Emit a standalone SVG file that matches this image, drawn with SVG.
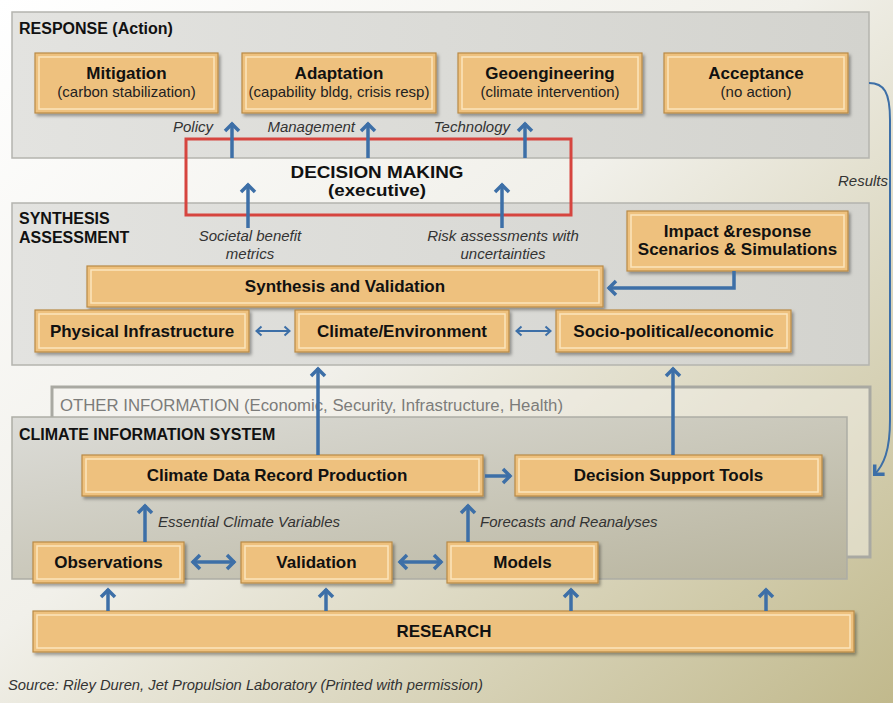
<svg xmlns="http://www.w3.org/2000/svg" width="893" height="703" viewBox="0 0 893 703">
<defs>
<linearGradient id="bg" x1="0" y1="0" x2="1" y2="1">
<stop offset="0" stop-color="#ffffff"/>
<stop offset="0.45" stop-color="#f1f0ea"/>
<stop offset="1" stop-color="#c1b98c"/>
</linearGradient>
<linearGradient id="pan" x1="0" y1="0" x2="1" y2="0">
<stop offset="0" stop-color="#e3e3e0"/>
<stop offset="1" stop-color="#d3d3ce"/>
</linearGradient>
<linearGradient id="pan2" x1="0" y1="0" x2="1" y2="1">
<stop offset="0" stop-color="#dcdcd8"/>
<stop offset="1" stop-color="#b8b49d"/>
</linearGradient>
<filter id="sh" x="-5%" y="-10%" width="110%" height="130%">
<feDropShadow dx="2" dy="2.5" stdDeviation="1.5" flood-color="#000" flood-opacity="0.35"/>
</filter>
<marker id="ah" markerUnits="userSpaceOnUse" markerWidth="20" markerHeight="20" viewBox="-10 -10 20 20" refX="1" refY="0" orient="auto-start-reverse">
<path d="M-7,-7 L0,0 L-7,7" fill="none" stroke="#3d6fa7" stroke-width="3.5"/>
</marker>
<marker id="ahs" markerUnits="userSpaceOnUse" markerWidth="14" markerHeight="14" viewBox="-7 -7 14 14" refX="0.5" refY="0" orient="auto-start-reverse">
<path d="M-5,-4.5 L0,0 L-5,4.5" fill="none" stroke="#3d6fa7" stroke-width="2"/>
</marker>
</defs>
<style>
.panel{fill:url(#pan);stroke:#b4b4ae;stroke-width:1.5}
.box{fill:#eec17e;stroke:#b98a47;stroke-width:1.2;filter:url(#sh)}
.inner{fill:none;stroke:#fbe5bd;stroke-width:1.5}
.t{font-family:"Liberation Sans",Arial,sans-serif;font-weight:bold;font-size:17px;fill:#111;text-anchor:middle}
.s{font-family:"Liberation Sans",Arial,sans-serif;font-size:15px;fill:#222;text-anchor:middle}
.h{font-family:"Liberation Sans",Arial,sans-serif;font-weight:bold;font-size:16px;fill:#111}
.i{font-family:"Liberation Sans",Arial,sans-serif;font-style:italic;font-size:15px;fill:#333}
.c{fill:none;stroke:#3d6fa7;stroke-width:3.5}
.cs{fill:none;stroke:#3d6fa7;stroke-width:2}
</style>
<rect x="0" y="0" width="893" height="703" fill="url(#bg)"/>

<g id="response-panel">
<rect class="panel" x="12" y="12" width="857" height="146"/>
<text class="h" x="19" y="34">RESPONSE (Action)</text>
</g>
<g id="synthesis-panel">
<rect class="panel" x="12" y="203" width="857" height="162"/>
<text class="h" x="19" y="224">SYNTHESIS</text>
<text class="h" x="19" y="243">ASSESSMENT</text>
</g>
<g id="other-information">
<rect x="52" y="387" width="818" height="170" fill="#f6f5ef" fill-opacity="0.45" stroke="#a9a9a2" stroke-width="3"/>
<text x="60" y="411" font-family="Liberation Sans, Arial, sans-serif" font-size="16" fill="#7c7c7a" textLength="503" lengthAdjust="spacingAndGlyphs">OTHER INFORMATION (Economic, Security, Infrastructure, Health)</text>
</g>
<g id="climate-information-panel">
<rect x="12" y="417" width="835" height="162" fill="url(#pan2)" stroke="#adada5" stroke-width="1.5"/>
<text class="h" x="19" y="440">CLIMATE INFORMATION SYSTEM</text>
</g>

<g id="decision-making">
<rect x="186" y="139" width="385" height="76" fill="none" stroke="#d6453f" stroke-width="3"/>
<text class="t" x="377" y="178" font-size="19" textLength="173" lengthAdjust="spacingAndGlyphs">DECISION MAKING</text>
<text class="t" x="377" y="196" font-size="19" textLength="98" lengthAdjust="spacingAndGlyphs">(executive)</text>
</g>

<g id="mitigation">
<rect class="box" x="35" y="53" width="183" height="60"/><rect class="inner" x="39" y="57" width="175" height="52"/>
<text class="t" x="126.5" y="79">Mitigation</text>
<text class="s" x="126.5" y="97">(carbon stabilization)</text>
</g>
<g id="adaptation">
<rect class="box" x="242" y="53" width="194" height="60"/><rect class="inner" x="246" y="57" width="186" height="52"/>
<text class="t" x="339" y="79">Adaptation</text>
<text class="s" x="339" y="97">(capability bldg, crisis resp)</text>
</g>
<g id="geoengineering">
<rect class="box" x="458" y="53" width="184" height="60"/><rect class="inner" x="462" y="57" width="176" height="52"/>
<text class="t" x="550" y="79">Geoengineering</text>
<text class="s" x="550" y="97">(climate intervention)</text>
</g>
<g id="acceptance">
<rect class="box" x="664" y="53" width="184" height="60"/><rect class="inner" x="668" y="57" width="176" height="52"/>
<text class="t" x="756" y="79">Acceptance</text>
<text class="s" x="756" y="97">(no action)</text>
</g>

<g id="impact-response">
<rect class="box" x="627" y="211" width="221" height="60"/><rect class="inner" x="631" y="215" width="213" height="52"/>
<text class="t" x="737.5" y="237">Impact &amp;response</text>
<text class="t" x="737.5" y="255">Scenarios &amp; Simulations</text>
</g>
<g id="synthesis-validation">
<rect class="box" x="87" y="266" width="516" height="41"/><rect class="inner" x="91" y="270" width="508" height="33"/>
<text class="t" x="345" y="292">Synthesis and Validation</text>
</g>
<g id="physical-infrastructure">
<rect class="box" x="35" y="310" width="214" height="42"/><rect class="inner" x="39" y="314" width="206" height="34"/>
<text class="t" x="142" y="337">Physical Infrastructure</text>
</g>
<g id="climate-environment">
<rect class="box" x="295" y="310" width="214" height="42"/><rect class="inner" x="299" y="314" width="206" height="34"/>
<text class="t" x="402" y="337">Climate/Environment</text>
</g>
<g id="socio-political">
<rect class="box" x="556" y="310" width="235" height="42"/><rect class="inner" x="560" y="314" width="227" height="34"/>
<text class="t" x="673.5" y="337">Socio-political/economic</text>
</g>

<g id="cdr-production">
<rect class="box" x="82" y="455" width="401" height="41"/><rect class="inner" x="86" y="459" width="393" height="33"/>
<text class="t" x="277" y="481">Climate Data Record Production</text>
</g>
<g id="decision-support">
<rect class="box" x="515" y="455" width="307" height="41"/><rect class="inner" x="519" y="459" width="299" height="33"/>
<text class="t" x="668.5" y="481">Decision Support Tools</text>
</g>
<g id="observations">
<rect class="box" x="33" y="542" width="151" height="41"/><rect class="inner" x="37" y="546" width="143" height="33"/>
<text class="t" x="108.5" y="568">Observations</text>
</g>
<g id="validation">
<rect class="box" x="241" y="542" width="151" height="41"/><rect class="inner" x="245" y="546" width="143" height="33"/>
<text class="t" x="316.5" y="568">Validation</text>
</g>
<g id="models">
<rect class="box" x="447" y="542" width="151" height="41"/><rect class="inner" x="451" y="546" width="143" height="33"/>
<text class="t" x="522.5" y="568">Models</text>
</g>
<g id="research">
<rect class="box" x="33" y="611" width="821" height="41"/><rect class="inner" x="37" y="615" width="813" height="33"/>
<text class="t" x="444" y="637" textLength="95" lengthAdjust="spacingAndGlyphs">RESEARCH</text>
</g>

<g id="connectors">
<line class="c" x1="232" y1="158" x2="232" y2="123" marker-end="url(#ah)"/>
<line class="c" x1="368" y1="158" x2="368" y2="123" marker-end="url(#ah)"/>
<line class="c" x1="525" y1="158" x2="525" y2="123" marker-end="url(#ah)"/>
<line class="c" x1="248" y1="228" x2="248" y2="184" marker-end="url(#ah)"/>
<line class="c" x1="502" y1="228" x2="502" y2="184" marker-end="url(#ah)"/>
<path class="c" d="M734,271 V288 H608" marker-end="url(#ah)"/>
<line class="cs" x1="256" y1="331" x2="290" y2="331" marker-start="url(#ahs)" marker-end="url(#ahs)"/>
<line class="cs" x1="516" y1="331" x2="551" y2="331" marker-start="url(#ahs)" marker-end="url(#ahs)"/>
<line class="c" x1="318" y1="455" x2="318" y2="368" marker-end="url(#ah)"/>
<line class="c" x1="673" y1="455" x2="673" y2="368" marker-end="url(#ah)"/>
<line class="c" x1="485" y1="476" x2="511" y2="476" marker-end="url(#ah)"/>
<line class="c" x1="145" y1="542" x2="145" y2="505" marker-end="url(#ah)"/>
<line class="c" x1="468" y1="542" x2="468" y2="505" marker-end="url(#ah)"/>
<line class="c" x1="192" y1="562" x2="235" y2="562" marker-start="url(#ah)" marker-end="url(#ah)"/>
<line class="c" x1="399" y1="562" x2="442" y2="562" marker-start="url(#ah)" marker-end="url(#ah)"/>
<line class="c" x1="108" y1="611" x2="108" y2="589" marker-end="url(#ah)"/>
<line class="c" x1="326" y1="611" x2="326" y2="589" marker-end="url(#ah)"/>
<line class="c" x1="571" y1="611" x2="571" y2="589" marker-end="url(#ah)"/>
<line class="c" x1="766" y1="611" x2="766" y2="589" marker-end="url(#ah)"/>
<path class="cs" d="M869,83 C884,83 890,92 890,120 L890,420 C890,450 884,465 874,475" stroke-width="2.5" marker-end="url(#ah)"/>
</g>

<g id="labels">
<text class="i" x="213" y="132" text-anchor="end">Policy</text>
<text class="i" x="355" y="132" text-anchor="end">Management</text>
<text class="i" x="510" y="132" text-anchor="end">Technology</text>
<text class="i" x="250" y="241" text-anchor="middle">Societal benefit</text>
<text class="i" x="250" y="259" text-anchor="middle">metrics</text>
<text class="i" x="503" y="241" text-anchor="middle">Risk assessments with</text>
<text class="i" x="503" y="259" text-anchor="middle">uncertainties</text>
<text class="i" x="838" y="186">Results</text>
<text class="i" x="158" y="527">Essential Climate Variables</text>
<text class="i" x="480" y="527">Forecasts and Reanalyses</text>
<text class="i" x="8" y="690" font-size="15" fill="#222" textLength="475" lengthAdjust="spacingAndGlyphs">Source: Riley Duren, Jet Propulsion Laboratory (Printed with permission)</text>
</g>
</svg>
